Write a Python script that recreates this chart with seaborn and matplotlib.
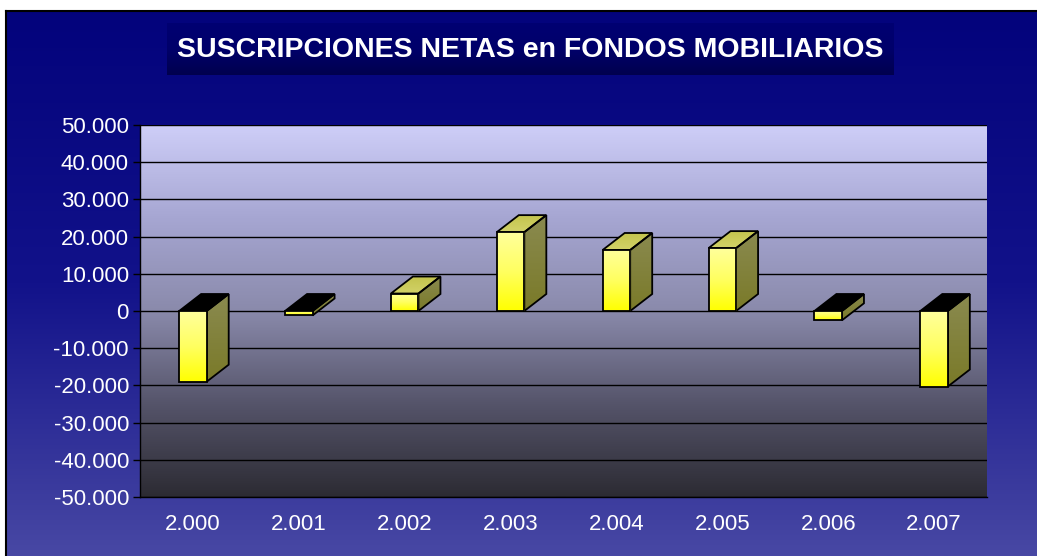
import numpy as np
import matplotlib
matplotlib.use("Agg")
import matplotlib.pyplot as plt
import seaborn as sns
from matplotlib.colors import LinearSegmentedColormap
from matplotlib.patches import Polygon
from matplotlib.ticker import FuncFormatter

# Datos
anios = ["2.000", "2.001", "2.002", "2.003", "2.004", "2.005", "2.006", "2.007"]
suscripciones = [-19000, -1200, 4700, 21200, 16400, 16900, -2500, -20300]
marcas_y = list(range(-50000, 50001, 10000))
titulo = "SUSCRIPCIONES NETAS en FONDOS MOBILIARIOS"

sns.set_theme(style="white")
plt.rcParams["font.family"] = ["Liberation Sans", "DejaVu Sans"]

W, H = 1037, 556
fig = plt.figure(figsize=(W / 100, H / 100), dpi=100)
fig.patch.set_facecolor("white")

grad = np.linspace(0, 1, 256).reshape(-1, 1)


def fondo(rect, colores, borde=False):
    a = fig.add_axes(rect)
    cmap = LinearSegmentedColormap.from_list("c", colores)
    a.imshow(grad, cmap=cmap, aspect="auto", extent=[0, 1, 0, 1], origin="upper")
    a.set_xticks([])
    a.set_yticks([])
    for lado in ["left", "right", "top", "bottom"]:
        a.spines[lado].set_visible(False)
    if borde:
        for lado in ["left", "top"]:
            a.spines[lado].set_visible(True)
            a.spines[lado].set_color("black")
            a.spines[lado].set_linewidth(1.5)
    return a


# fondo azul de la figura
fondo([6 / W, 0, 1 - 6 / W, 1 - 11 / H], ["#03037c", "#12128a", "#4848a4"], borde=True)

# caja del titulo
caja = fondo([167 / W, 1 - 75 / H, 727 / W, 52 / H], ["#000072", "#00006a", "#00004e"])
caja.text(0.5, 0.48, titulo, color="white", fontsize=20.5, fontweight="bold",
          ha="center", va="center", transform=caja.transAxes)

# area del grafico
ax = fig.add_axes([140 / W, 1 - 497 / H, 847 / W, 372 / H])
cmap_plot = LinearSegmentedColormap.from_list(
    "p", ["#ceceF8", "#a6a6d2", "#8a8aab", "#55546a", "#2c2b33"])
ax.imshow(grad, cmap=cmap_plot, aspect="auto", extent=[0, 1, 0, 1],
          origin="upper", transform=ax.transAxes, zorder=0)

sns.barplot(x=anios, y=suscripciones, ax=ax, width=0.26, color="#ffff33",
            edgecolor="black", linewidth=1.3, saturation=1, zorder=3)

ax.set_ylim(-50000, 50000)
ax.set_xlim(-0.5, len(anios) - 0.5)

# profundidad 3D en unidades de datos
dx = 22 / 847 * len(anios)
dy = 17 / 372 * 100000

cm_frente = LinearSegmentedColormap.from_list("f", ["#ffff9c", "#ffff60", "#ffff00"])
cm_lado = LinearSegmentedColormap.from_list("l", ["#8a8a50", "#7a7a28"])
cm_tope = LinearSegmentedColormap.from_list("t", ["#c4c44e", "#d2d268"])


def cara(pts, cmap, zorder):
    pts = np.array(pts)
    poly = Polygon(pts, closed=True, facecolor="none", edgecolor="black",
                   linewidth=1.3, zorder=zorder + 0.1)
    ax.add_patch(poly)
    if cmap is None:
        poly.set_facecolor("black")
        return
    im = ax.imshow(grad, cmap=cmap, aspect="auto", origin="upper",
                   extent=[pts[:, 0].min(), pts[:, 0].max(), pts[:, 1].min(), pts[:, 1].max()],
                   zorder=zorder)
    im.set_clip_path(poly)


for barra in list(ax.patches):
    x0 = barra.get_x()
    w = barra.get_width()
    y0 = barra.get_y()
    h = barra.get_height()
    bajo, alto = min(y0, y0 + h), max(y0, y0 + h)
    # cara lateral
    cara([(x0 + w, bajo), (x0 + w + dx, bajo + dy), (x0 + w + dx, alto + dy), (x0 + w, alto)],
         cm_lado, 3)
    # cara superior (negra en los negativos)
    cara([(x0, alto), (x0 + dx, alto + dy), (x0 + w + dx, alto + dy), (x0 + w, alto)],
         cm_tope if h > 0 else None, 3)
    # frente con degradado
    barra.set_facecolor("none")
    barra.set_zorder(4.1)
    im = ax.imshow(grad, cmap=cm_frente, aspect="auto", origin="upper",
                   extent=[x0, x0 + w, bajo, alto], zorder=4)
    im.set_clip_path(barra)

ax.set_ylim(-50000, 50000)
ax.set_xlim(-0.5, len(anios) - 0.5)
ax.set_aspect("auto")

ax.set_yticks(marcas_y)
ax.yaxis.set_major_formatter(FuncFormatter(lambda v, p: f"{v:,.0f}".replace(",", ".")))
ax.yaxis.grid(True, color="black", linewidth=1)
ax.set_axisbelow(True)
for g in ax.yaxis.get_gridlines():
    g.set_zorder(1)

ax.tick_params(axis="y", left=True, length=5, width=1, color="black",
               labelcolor="white", labelsize=16, pad=3)
ax.tick_params(axis="x", bottom=False, labelcolor="white", labelsize=16, pad=6)
ax.set_xlabel("")
ax.set_ylabel("")
for lado in ["right", "top"]:
    ax.spines[lado].set_visible(False)
for lado in ["left", "bottom"]:
    ax.spines[lado].set_color("black")
    ax.spines[lado].set_linewidth(1)

fig.savefig("out.png", dpi=100, facecolor=fig.get_facecolor())
